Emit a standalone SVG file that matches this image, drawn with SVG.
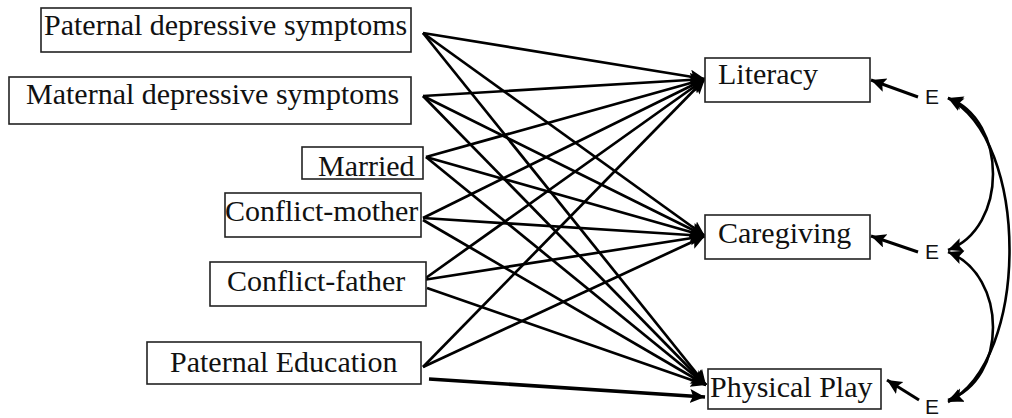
<svg xmlns="http://www.w3.org/2000/svg" width="1012" height="418" viewBox="0 0 1012 418">
<style>
.box{fill:#fff;stroke:#222;stroke-width:1.6}
.lbl{font-family:"Liberation Serif","Times New Roman",serif;font-size:30px;fill:#111}
.e{font-family:"Liberation Sans",Arial,sans-serif;font-size:21px;fill:#111}
.ln{fill:none;stroke:#000;stroke-width:2.7;marker-end:url(#ah)}
.cv{fill:none;stroke:#000;stroke-width:2.6;marker-start:url(#ah2);marker-end:url(#ah2)}
</style>
<defs>
<marker id="ah" markerUnits="userSpaceOnUse" markerWidth="18" markerHeight="16" refX="15" refY="7" orient="auto">
<path d="M0,0 L15,7 L0,14 L3,7 z" fill="#000"/>
</marker>
<marker id="ah2" markerUnits="userSpaceOnUse" markerWidth="18" markerHeight="16" refX="15" refY="7" orient="auto-start-reverse">
<path d="M0,0 L15,7 L0,14 L3,7 z" fill="#000"/>
</marker>
</defs>
<g id="connectors">
<path class="ln" d="M423,33 L705,79"/>
<path class="ln" d="M423,33 L705,236"/>
<path class="ln" d="M423,33 L706,385"/>
<path class="ln" d="M423,96 L705,79"/>
<path class="ln" d="M423,96 L705,236"/>
<path class="ln" d="M423,96 L706,385"/>
<path class="ln" d="M426,157 L705,79"/>
<path class="ln" d="M426,157 L705,236"/>
<path class="ln" d="M426,157 L706,385"/>
<path class="ln" d="M423,218 L705,79"/>
<path class="ln" d="M423,218 L705,236"/>
<path class="ln" d="M423,220 L706,385"/>
<path class="ln" d="M423,280 L705,79"/>
<path class="ln" d="M423,280 L705,236"/>
<path class="ln" d="M427,288 L706,385"/>
<path class="ln" d="M423,367 L705,79"/>
<path class="ln" d="M423,367 L705,236"/>
<path class="ln" d="M429,379 L705,397" style="stroke-width:3.6"/>
<path class="ln" d="M918,97 L871,80" style="stroke-width:3"/>
<path class="ln" d="M918,252 L871,236" style="stroke-width:3"/>
<path class="ln" d="M919,400 L887,380" style="stroke-width:3"/>
<path class="cv" d="M948,98 C1008,120 1008,228 948,250"/>
<path class="cv" d="M948,98 C1030,140 1030,360 948,402"/>
<path class="cv" d="M948,252 C1008,275 1008,380 948,400"/>
</g>
<g id="n-paternal-dep"><rect class="box" x="41" y="8" width="370" height="44"/><text class="lbl" x="44" y="35">Paternal depressive symptoms</text></g>
<g id="n-maternal-dep"><rect class="box" x="9" y="77" width="402" height="47"/><text class="lbl" x="26" y="104">Maternal depressive symptoms</text></g>
<g id="n-married"><rect class="box" x="302" y="147" width="121" height="32"/><text class="lbl" x="318" y="176">Married</text></g>
<g id="n-conflict-mother"><rect class="box" x="225" y="193" width="196" height="44"/><text class="lbl" x="225" y="221">Conflict-mother</text></g>
<g id="n-conflict-father"><rect class="box" x="210" y="262" width="216" height="44"/><text class="lbl" x="227" y="291">Conflict-father</text></g>
<g id="n-paternal-edu"><rect class="box" x="147" y="342" width="274" height="42"/><text class="lbl" x="170" y="372">Paternal Education</text></g>
<g id="n-literacy"><rect class="box" x="705" y="58" width="165" height="44"/><text class="lbl" x="718" y="84">Literacy</text></g>
<g id="n-caregiving"><rect class="box" x="705" y="215" width="165" height="44"/><text class="lbl" x="718" y="243">Caregiving</text></g>
<g id="n-physical-play"><rect class="box" x="708" y="369" width="173" height="40"/><text class="lbl" x="710" y="397">Physical Play</text></g>
<g id="n-e1"><text class="e" x="925" y="104">E</text></g>
<g id="n-e2"><text class="e" x="925" y="259">E</text></g>
<g id="n-e3"><text class="e" x="925" y="414">E</text></g>
</svg>
